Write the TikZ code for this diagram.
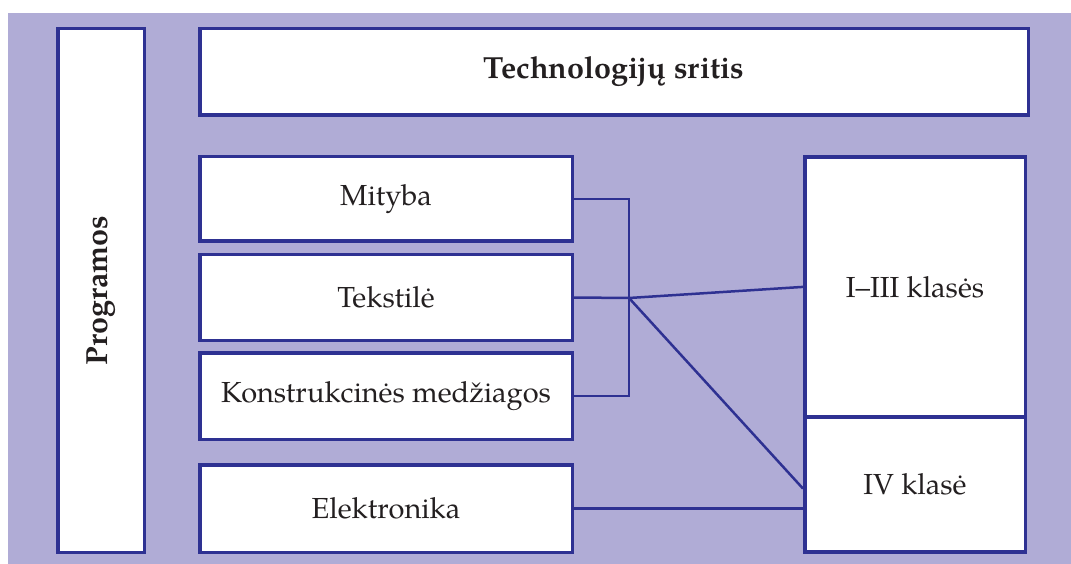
\documentclass[tikz,border=0pt]{standalone}
\usepackage{fontspec}
\setmainfont{TeX Gyre Pagella}
\definecolor{bg}{HTML}{B0ACD6}
\definecolor{ink}{HTML}{2E3192}
\definecolor{txt}{HTML}{231F20}
\tikzset{
  box/.style={draw=ink, line width=3.5pt, fill=white, inner sep=0pt,
    text=txt, font=\fontsize{29}{35}\selectfont},
  head/.style={font=\fontsize{30.5}{36}\selectfont\bfseries},
  link/.style={draw=ink, line width=2.5pt},
}
\begin{document}
\begin{tikzpicture}[x=1pt, y=-1pt]
  \useasboundingbox (0,0) rectangle (1071,564);
  % lavender panel
  \fill[bg] (8,13) rectangle (1071,564);

  % side label
  \node[box, head, minimum width=86.5pt, minimum height=523.5pt] (prog) at (101,290.5)
    {\rotatebox{90}{Programos}};
  % heading
  \node[box, head, minimum width=828.5pt, minimum height=86.5pt] (title) at (614,72)
    {Technologijų sritis};

  % programmes
  \node[box, minimum width=372.5pt, minimum height=84.5pt] (mit) at (386,199) {Mityba};
  \node[box, minimum width=372.5pt, minimum height=85.5pt] (tek) at (386,297.5) {Tekstilė};
  \node[box, minimum width=372.5pt, minimum height=86.5pt] (kon) at (386,396) {Konstrukcinės medžiagos};
  \node[box, minimum width=372.5pt, minimum height=87.5pt] (elek) at (386,508.5) {Elektronika};

  % grades
  \node[box, minimum width=220.5pt, minimum height=260.25pt] (kl13) at (915,286.9) {I–III klasės};
  \node[box, minimum width=220.5pt, minimum height=135.25pt] (kl4) at (915,484.6) {IV klasė};

  % connectors
  \coordinate (hub) at (629,298);
  \draw[link] (mit.east) -| (hub) |- (kon.east);
  \draw[link] (tek.east) -- (hub);
  \draw[link] (hub) -- (kl13.west);
  \draw[link] (hub) -- ([yshift=-4pt]kl4.west);
  \draw[link] (elek.east) -- (elek.east -| kl4.west);
\end{tikzpicture}
\end{document}
